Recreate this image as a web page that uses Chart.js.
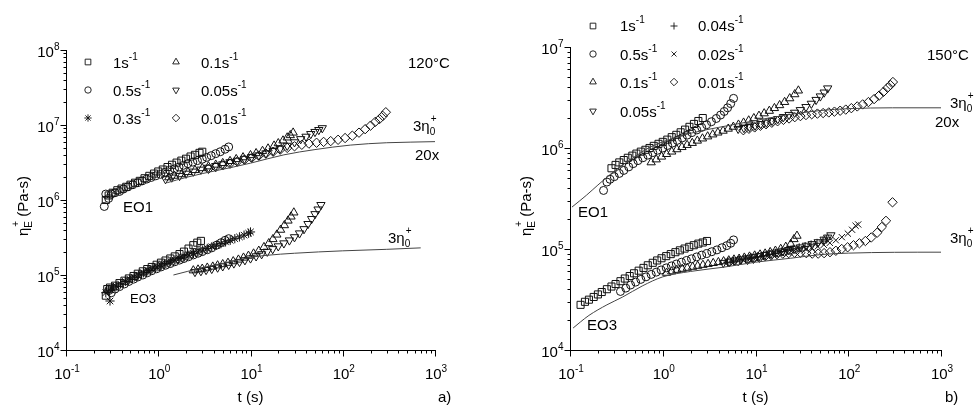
<!DOCTYPE html>
<html>
<head>
<meta charset="utf-8">
<script src="https://cdn.jsdelivr.net/npm/chart.js@4.4.1/dist/chart.umd.min.js"></script>
<style>
  html, body { margin: 0; padding: 0; background: #fff; }
  #wrap { position: relative; width: 977px; height: 406px; overflow: hidden; }
  #chartA { position: absolute; left: 0; top: 0; }
  #chartB { position: absolute; left: 490px; top: 0; }
</style>
</head>
<body>
<div id="wrap">
  <canvas id="chartA" width="490" height="406"></canvas>
  <canvas id="chartB" width="487" height="406"></canvas>
</div>
<script>
// axis decades
const xTickExp = [-1, 0, 1, 2, 3];
const yTickExpA = [4, 5, 6, 7, 8];
const yTickExpB = [4, 5, 6, 7];

// ---- 120°C, EO1 : [t (s), eta_E+ (Pa-s)]
const a1_1 = [[0.27,1.0e6],[0.29,1.15e6],[0.32,1.25e6],[0.36,1.35e6],[0.40,1.42e6],[0.45,1.5e6],[0.50,1.6e6],[0.56,1.7e6],[0.63,1.8e6],[0.71,1.95e6],[0.80,2.1e6],[0.90,2.25e6],[1.0,2.4e6],[1.12,2.55e6],[1.26,2.75e6],[1.41,2.95e6],[1.58,3.15e6],[1.78,3.35e6],[2.0,3.55e6],[2.24,3.8e6],[2.5,4.0e6],[2.8,4.25e6],[3.0,4.4e6]];
const a1_05 = [[0.26,8.2e5],[0.27,1.2e6],[0.29,1.05e6],[0.31,1.2e6],[0.34,1.25e6],[0.38,1.3e6],[0.42,1.4e6],[0.47,1.5e6],[0.53,1.6e6],[0.6,1.7e6],[0.67,1.8e6],[0.75,1.9e6],[0.84,2.0e6],[0.94,2.1e6],[1.06,2.2e6],[1.19,2.35e6],[1.33,2.5e6],[1.5,2.6e6],[1.68,2.75e6],[1.88,2.9e6],[2.1,3.05e6],[2.37,3.2e6],[2.66,3.35e6],[3.0,3.5e6],[3.35,3.7e6],[3.75,3.9e6],[4.2,4.15e6],[4.7,4.4e6],[5.3,4.75e6],[5.8,5.1e6]];
const a1_01 = [[1.3,2.0e6],[1.5,2.1e6],[1.8,2.2e6],[2.1,2.35e6],[2.5,2.5e6],[3.0,2.65e6],[3.5,2.8e6],[4.2,2.95e6],[5.0,3.1e6],[6.0,3.3e6],[7.0,3.5e6],[8.3,3.7e6],[10,3.95e6],[11.5,4.2e6],[13.5,4.5e6],[15.5,4.85e6],[18,5.3e6],[20,5.7e6],[22.5,6.2e6],[25,6.8e6],[27,7.3e6],[29,7.9e6]];
const a1_005 = [[1.2,1.9e6],[1.4,2.0e6],[1.7,2.1e6],[2.0,2.25e6],[2.4,2.4e6],[2.9,2.55e6],[3.5,2.7e6],[4.2,2.85e6],[5.0,3.0e6],[6.0,3.2e6],[7.2,3.35e6],[8.6,3.55e6],[10.3,3.75e6],[12.3,3.95e6],[14.7,4.2e6],[17.6,4.5e6],[21,4.85e6],[25,5.3e6],[30,5.9e6],[35,6.5e6],[40,7.0e6],[45,7.6e6],[50,8.1e6],[55,8.6e6],[60,9.1e6]];
const a1_001 = [[3.5,2.6e6],[4.2,2.75e6],[5,2.9e6],[6,3.05e6],[7.2,3.25e6],[8.6,3.45e6],[10.3,3.65e6],[12.3,3.9e6],[14.7,4.15e6],[17.6,4.4e6],[21,4.7e6],[25,4.95e6],[30,5.2e6],[36,5.45e6],[43,5.65e6],[52,5.8e6],[62,5.95e6],[74,6.1e6],[89,6.35e6],[106,6.7e6],[127,7.2e6],[150,7.9e6],[175,8.8e6],[200,9.8e6],[225,1.1e7],[250,1.2e7],[272,1.32e7],[293,1.48e7]];
const a1_lve = [[1.25,1.7e6],[2,2.0e6],[3,2.25e6],[6.5,2.75e6],[10,3.1e6],[23,4.0e6],[50,4.7e6],[122,5.4e6],[300,5.8e6],[1000,6.0e6],[1400,6.1e6]];

// ---- 120°C, EO3
const a3_1 = [[0.27,5.3e4],[0.28,6.5e4],[0.3,6.8e4],[0.34,7.2e4],[0.38,7.8e4],[0.43,8.4e4],[0.48,9.0e4],[0.54,9.7e4],[0.6,1.04e5],[0.68,1.12e5],[0.76,1.2e5],[0.85,1.28e5],[0.96,1.37e5],[1.07,1.46e5],[1.2,1.56e5],[1.35,1.66e5],[1.51,1.77e5],[1.7,1.9e5],[1.9,2.05e5],[2.13,2.25e5],[2.4,2.5e5],[2.65,2.7e5],[2.9,2.85e5]];
const a3_05 = [[0.29,6.2e4],[0.31,5.8e4],[0.34,6.5e4],[0.38,7.0e4],[0.43,7.6e4],[0.48,8.2e4],[0.54,8.8e4],[0.6,9.4e4],[0.68,1.0e5],[0.76,1.07e5],[0.85,1.14e5],[0.96,1.21e5],[1.07,1.28e5],[1.2,1.35e5],[1.35,1.42e5],[1.51,1.5e5],[1.7,1.58e5],[1.9,1.66e5],[2.13,1.75e5],[2.4,1.85e5],[2.7,1.95e5],[3.0,2.05e5],[3.4,2.17e5],[3.8,2.3e5],[4.3,2.5e5],[4.8,2.7e5],[5.3,2.9e5],[5.8,3.05e5]];
const a3_03 = [[0.27,5.8e4],[0.29,6.3e4],[0.3,4.5e4],[0.32,6.7e4],[0.35,7.1e4],[0.39,7.6e4],[0.44,8.2e4],[0.49,8.8e4],[0.55,9.4e4],[0.61,1.0e5],[0.69,1.07e5],[0.77,1.14e5],[0.86,1.21e5],[0.97,1.28e5],[1.08,1.35e5],[1.21,1.42e5],[1.36,1.5e5],[1.52,1.58e5],[1.71,1.66e5],[1.92,1.75e5],[2.15,1.84e5],[2.41,1.94e5],[2.7,2.04e5],[3.03,2.15e5],[3.4,2.26e5],[3.81,2.38e5],[4.27,2.5e5],[4.79,2.62e5],[5.37,2.76e5],[6.03,2.9e5],[6.76,3.05e5],[7.59,3.22e5],[8.51,3.4e5],[9.55,3.6e5],[10,3.75e5]];
const a3_01 = [[2.4,1.15e5],[2.7,1.18e5],[3.0,1.21e5],[3.4,1.25e5],[3.9,1.29e5],[4.4,1.34e5],[5.0,1.39e5],[5.7,1.45e5],[6.5,1.52e5],[7.4,1.6e5],[8.4,1.7e5],[9.5,1.8e5],[10.8,1.93e5],[12.3,2.1e5],[14,2.35e5],[15.8,2.65e5],[17.5,3.0e5],[19.3,3.45e5],[21.2,4.0e5],[23.3,4.6e5],[25.5,5.3e5],[27.5,6.0e5],[29.5,6.8e5]];
const a3_005 = [[2.5,1.1e5],[2.9,1.13e5],[3.3,1.17e5],[3.8,1.21e5],[4.4,1.26e5],[5.0,1.31e5],[5.8,1.37e5],[6.6,1.43e5],[7.6,1.5e5],[8.7,1.58e5],[10,1.67e5],[11.5,1.78e5],[13.2,1.9e5],[15.2,2.05e5],[17.4,2.22e5],[20,2.42e5],[23,2.65e5],[26.4,2.9e5],[30,3.2e5],[34,3.6e5],[38,4.1e5],[42,4.8e5],[46,5.6e5],[50,6.5e5],[54,7.5e5],[58,8.6e5]];
const a3_lve = [[1.46,1.0e5],[3,1.25e5],[6,1.5e5],[10,1.72e5],[15,1.83e5],[30,1.95e5],[100,2.1e5],[300,2.2e5],[700,2.3e5]];

// ---- 150°C, EO1
const b1_1 = [[0.28,6.3e5],[0.31,6.8e5],[0.34,7.2e5],[0.38,7.6e5],[0.42,8.0e5],[0.47,8.4e5],[0.52,8.8e5],[0.58,9.2e5],[0.65,9.6e5],[0.72,1.0e6],[0.8,1.05e6],[0.9,1.1e6],[1.0,1.15e6],[1.12,1.21e6],[1.25,1.28e6],[1.4,1.35e6],[1.56,1.43e6],[1.74,1.52e6],[1.94,1.62e6],[2.17,1.73e6],[2.42,1.85e6],[2.7,1.98e6]];
const b1_05 = [[0.23,3.8e5],[0.25,4.6e5],[0.27,4.9e5],[0.3,5.2e5],[0.34,5.6e5],[0.38,6.0e5],[0.43,6.5e5],[0.48,7.0e5],[0.54,7.5e5],[0.61,8.0e5],[0.69,8.5e5],[0.78,9.0e5],[0.88,9.5e5],[1.0,1.0e6],[1.13,1.06e6],[1.27,1.12e6],[1.43,1.19e6],[1.62,1.26e6],[1.83,1.34e6],[2.06,1.42e6],[2.33,1.51e6],[2.63,1.6e6],[2.97,1.7e6],[3.35,1.82e6],[3.78,1.96e6],[4.2,2.12e6],[4.6,2.3e6],[5.0,2.5e6],[5.4,2.75e6],[5.8,3.1e6]];
const b1_01 = [[0.75,7.2e5],[0.85,7.7e5],[0.97,8.2e5],[1.1,8.7e5],[1.25,9.2e5],[1.42,9.7e5],[1.61,1.02e6],[1.83,1.07e6],[2.08,1.12e6],[2.36,1.18e6],[2.68,1.24e6],[3.05,1.3e6],[3.46,1.36e6],[3.93,1.42e6],[4.47,1.48e6],[5.08,1.55e6],[5.77,1.62e6],[6.55,1.7e6],[7.44,1.78e6],[8.45,1.87e6],[9.6,1.97e6],[10.9,2.08e6],[12.4,2.2e6],[14.1,2.33e6],[16,2.48e6],[18.2,2.65e6],[20.6,2.85e6],[23.4,3.1e6],[26.5,3.4e6],[29,3.7e6]];
const b1_005 = [[6.5,1.55e6],[7.5,1.58e6],[8.6,1.62e6],[9.9,1.67e6],[11.4,1.73e6],[13.1,1.79e6],[15.1,1.86e6],[17.4,1.94e6],[20,2.03e6],[23,2.13e6],[26.4,2.24e6],[30.4,2.38e6],[35,2.55e6],[40,2.75e6],[45,3.0e6],[50,3.25e6],[55,3.55e6],[60,3.9e6]];
const b1_001 = [[7.4,1.5e6],[8.5,1.55e6],[9.8,1.6e6],[11.3,1.66e6],[13,1.72e6],[15,1.78e6],[17.3,1.84e6],[20,1.9e6],[23,1.96e6],[26.5,2.02e6],[30.5,2.07e6],[35,2.12e6],[40.4,2.16e6],[46.5,2.19e6],[53.6,2.22e6],[61.7,2.25e6],[71,2.29e6],[81.8,2.34e6],[94,2.4e6],[108,2.48e6],[125,2.58e6],[143,2.7e6],[165,2.85e6],[190,3.05e6],[215,3.3e6],[240,3.6e6],[265,3.95e6],[285,4.2e6],[303,4.5e6]];
const b1_lve = [[0.105,2.6e5],[0.15,3.4e5],[0.2,4.3e5],[0.3,5.9e5],[0.5,8.2e5],[0.7,1.0e6],[1,1.15e6],[2,1.4e6],[4,1.6e6],[8,1.8e6],[20,2.1e6],[50,2.35e6],[100,2.45e6],[300,2.5e6],[1000,2.5e6],[2300,2.5e6]];

// ---- 150°C, EO3
const b3_1 = [[0.13,2.8e4],[0.145,3.0e4],[0.16,3.15e4],[0.18,3.35e4],[0.2,3.55e4],[0.22,3.75e4],[0.25,4.0e4],[0.28,4.25e4],[0.31,4.5e4],[0.35,4.8e4],[0.39,5.1e4],[0.44,5.4e4],[0.49,5.75e4],[0.55,6.1e4],[0.62,6.5e4],[0.69,6.9e4],[0.78,7.3e4],[0.87,7.7e4],[0.97,8.1e4],[1.09,8.5e4],[1.22,8.9e4],[1.37,9.3e4],[1.53,9.7e4],[1.72,1.01e5],[1.93,1.05e5],[2.16,1.09e5],[2.42,1.13e5],[2.7,1.16e5],[3.0,1.2e5]];
const b3_05 = [[0.35,3.8e4],[0.4,4.1e4],[0.45,4.4e4],[0.51,4.7e4],[0.58,5.0e4],[0.66,5.3e4],[0.75,5.6e4],[0.85,5.9e4],[0.96,6.2e4],[1.09,6.5e4],[1.24,6.8e4],[1.4,7.1e4],[1.59,7.4e4],[1.8,7.7e4],[2.04,8.0e4],[2.32,8.35e4],[2.63,8.7e4],[2.98,9.0e4],[3.38,9.4e4],[3.84,9.8e4],[4.35,1.03e5],[4.9,1.08e5],[5.4,1.14e5],[5.8,1.23e5]];
const b3_01 = [[1.1,5.8e4],[1.25,6.0e4],[1.42,6.2e4],[1.62,6.35e4],[1.84,6.5e4],[2.1,6.65e4],[2.38,6.8e4],[2.71,6.95e4],[3.08,7.1e4],[3.5,7.25e4],[3.98,7.4e4],[4.53,7.55e4],[5.15,7.7e4],[5.86,7.85e4],[6.66,8.0e4],[7.58,8.2e4],[8.62,8.4e4],[9.8,8.6e4],[11.2,8.8e4],[12.7,9.0e4],[14.4,9.3e4],[16.4,9.6e4],[18.7,1.0e5],[21.2,1.05e5],[24,1.12e5],[26,1.25e5],[28,1.35e5]];
const b3_005 = [[4.5,7.3e4],[5.2,7.5e4],[6,7.7e4],[7,7.9e4],[8.1,8.1e4],[9.4,8.3e4],[10.9,8.5e4],[12.6,8.75e4],[14.6,9.0e4],[16.9,9.25e4],[19.6,9.5e4],[22.7,9.8e4],[26.3,1.01e5],[30.5,1.04e5],[35.3,1.08e5],[40.9,1.12e5],[47.4,1.17e5],[54.9,1.24e5],[60,1.3e5],[65,1.37e5]];
const b3_004 = [[5,7.4e4],[5.8,7.6e4],[6.7,7.8e4],[7.8,8.0e4],[9,8.2e4],[10.5,8.4e4],[12.2,8.6e4],[14.1,8.9e4],[16.4,9.1e4],[19,9.4e4],[22,9.7e4],[25.5,1.0e5],[29.6,1.03e5],[34.3,1.06e5],[39.8,1.1e5],[46.1,1.14e5],[53.5,1.2e5],[58,1.25e5]];
const b3_002 = [[9,7.8e4],[10.5,8.0e4],[12.2,8.3e4],[14.2,8.5e4],[16.5,8.8e4],[19.1,9.0e4],[22.2,9.3e4],[25.8,9.5e4],[30,9.8e4],[34.8,1.0e5],[40.4,1.03e5],[46.9,1.06e5],[54.5,1.1e5],[63.3,1.15e5],[73.5,1.22e5],[85.3,1.31e5],[99,1.42e5],[110,1.55e5],[120,1.7e5],[128,1.75e5]];
const b3_001 = [[5.2,7.4e4],[6.5,7.6e4],[8.2,7.8e4],[9.5,8.0e4],[11,8.2e4],[12.7,8.5e4],[14.7,8.7e4],[17,8.9e4],[19.7,9.0e4],[22.8,9.1e4],[26.4,9.2e4],[30.5,9.2e4],[35.3,9.1e4],[40.9,9.0e4],[47.4,9.0e4],[54.9,9.1e4],[63.5,9.3e4],[73.5,9.6e4],[85,1.0e5],[98.5,1.04e5],[114,1.09e5],[132,1.14e5],[153,1.2e5],[177,1.3e5],[205,1.45e5],[230,1.65e5],[255,1.9e5],[300,2.9e5]];
const b3_lve = [[0.108,1.65e4],[0.13,1.9e4],[0.16,2.2e4],[0.25,2.8e4],[0.37,3.35e4],[0.6,4.3e4],[1,5.3e4],[2,6.0e4],[4.5,6.6e4],[10,7.4e4],[24,8.1e4],[50,8.8e4],[100,9.1e4],[1000,9.3e4],[2300,9.3e4]];

const FONT = '"Liberation Sans", Arial, sans-serif';
const INK = '#111';

// marker look per strain rate
const MARK = {
  '1':    { style: 'rect', r: 5 },
  '0.5':  { style: 'circle', r: 4 },
  '0.3':  { style: 'star', r: 4.6 },
  '0.1':  { style: 'triangle', r: 4.8 },
  '0.05': { style: 'triangle', r: 4.8, rot: 180 },
  '0.04': { style: 'cross', r: 4.4 },
  '0.02': { style: 'crossRot', r: 4.4 },
  '0.01': { style: 'rectRot', r: 4.7 }
};

function pts(arr) { return arr.map(p => ({ x: p[0], y: p[1] })); }

function markers(arr, rate) {
  const m = MARK[rate];
  return {
    data: pts(arr), showLine: false,
    pointStyle: m.style, pointRadius: m.r, pointRotation: m.rot || 0,
    borderColor: INK, backgroundColor: 'rgba(0,0,0,0)', borderWidth: 1
  };
}

function lve(arr) {
  return {
    data: pts(arr), showLine: true, pointRadius: 0, borderColor: '#444',
    borderWidth: 1, cubicInterpolationMode: 'monotone', clip: false, fill: false
  };
}

// text runs: {t, s: font size, dy, stack: next run drawn at same x}
function drawRich(ctx, parts, x, y, align) {
  const w = parts.map(p => { ctx.font = p.s + 'px ' + FONT; return ctx.measureText(p.t).width; });
  let total = 0;
  for (let i = 0; i < parts.length; i++) {
    if (parts[i].stack) { total += Math.max(w[i], w[i + 1]); i++; } else total += w[i];
  }
  let cx = align === 'center' ? x - total / 2 : align === 'right' ? x - total : x;
  ctx.textAlign = 'left';
  ctx.textBaseline = 'alphabetic';
  for (let i = 0; i < parts.length; i++) {
    const p = parts[i];
    ctx.font = p.s + 'px ' + FONT;
    ctx.fillText(p.t, cx, y + (p.dy || 0));
    if (p.stack) {
      const q = parts[i + 1];
      ctx.font = q.s + 'px ' + FONT;
      ctx.fillText(q.t, cx + 1, y + (q.dy || 0));
      cx += Math.max(w[i], w[i + 1]);
      i++;
    } else cx += w[i];
  }
  return total;
}

const rateText = v => [{ t: v + 's', s: 15 }, { t: '-1', s: 10, dy: -8 }];
const powText = e => [{ t: '10', s: 15 }, { t: String(e), s: 10, dy: -7 }];
const eta0Text = [{ t: '3η', s: 15 }, { t: '0', s: 10, dy: 4, stack: true }, { t: '+', s: 10, dy: -9 }];
const yTitle = [{ t: 'η', s: 15 }, { t: 'E', s: 10, dy: 4, stack: true }, { t: '+', s: 10, dy: -9 }, { t: ' (Pa-s)', s: 15 }];

function drawSymbol(ctx, rate, x, y) {
  const m = MARK[rate];
  ctx.save();
  ctx.strokeStyle = INK; ctx.fillStyle = 'rgba(0,0,0,0)'; ctx.lineWidth = 0.9;
  Chart.helpers.drawPoint(ctx, { pointStyle: m.style, rotation: m.rot || 0, radius: m.r * 0.8, borderWidth: 0.9 }, x, y);
  ctx.restore();
}

function panelPlugin(cfg) {
  return {
    id: 'panel',
    afterDraw(chart) {
      const ctx = chart.ctx, xs = chart.scales.x, ys = chart.scales.y;
      const xa = Math.round(xs.left) + 0.5, ya = Math.round(ys.bottom) + 0.5;
      ctx.save();
      ctx.strokeStyle = '#000'; ctx.fillStyle = '#000'; ctx.lineWidth = 1;

      // major and minor ticks, pointing out of the plot
      ctx.beginPath();
      cfg.xExp.forEach(e => {
        for (let k = 1; k <= 9; k++) {
          const v = k * Math.pow(10, e);
          if (v > xs.max * 1.0001) break;
          const px = Math.round(xs.getPixelForValue(v)) + 0.5;
          ctx.moveTo(px, ya); ctx.lineTo(px, ya + (k === 1 ? 6 : 3));
        }
      });
      cfg.yExp.forEach(e => {
        for (let k = 1; k <= 9; k++) {
          const v = k * Math.pow(10, e);
          if (v > ys.max * 1.0001) break;
          const py = Math.round(ys.getPixelForValue(v)) + 0.5;
          ctx.moveTo(xa, py); ctx.lineTo(xa - (k === 1 ? 6 : 3), py);
        }
      });
      ctx.stroke();

      // decade labels
      ctx.fillStyle = '#000';
      cfg.xExp.forEach(e => {
        drawRich(ctx, powText(e), xs.getPixelForValue(Math.pow(10, e)) + 1, ya + 28, 'center');
      });
      cfg.yExp.forEach(e => {
        drawRich(ctx, powText(e), xa - 7, ys.getPixelForValue(Math.pow(10, e)) + 7, 'right');
      });

      // axis titles
      drawRich(ctx, [{ t: 't (s)', s: 15 }], (xs.left + xs.right) / 2, 402, 'center');
      drawRich(ctx, [{ t: cfg.tag, s: 15 }], cfg.tagX, 402, 'left');
      ctx.save();
      ctx.translate(cfg.yTitleX, 206);
      ctx.rotate(-Math.PI / 2);
      drawRich(ctx, yTitle, 0, 0, 'center');
      ctx.restore();

      // legend
      cfg.legend.forEach(l => {
        drawSymbol(ctx, l.rate, l.sx, l.sy);
        ctx.fillStyle = '#000';
        drawRich(ctx, rateText(l.rate), l.tx, l.ty, 'left');
      });

      // notes
      cfg.notes.forEach(n => drawRich(ctx, n.parts, n.x, n.y, 'left'));
      ctx.restore();
    }
  };
}

function makeChart(id, datasets, yMax, pad, yWidth, cfg) {
  return new Chart(document.getElementById(id), {
    type: 'scatter',
    data: { datasets: datasets },
    options: {
      responsive: false, animation: false, devicePixelRatio: 1, events: [],
      layout: { padding: pad },
      plugins: { legend: { display: false }, tooltip: { enabled: false } },
      scales: {
        x: {
          type: 'logarithmic', min: 0.1, max: 1000,
          ticks: { display: false }, grid: { display: false },
          border: { display: true, color: '#000', width: 1 },
          afterFit(s) { s.height = 56; }
        },
        y: {
          type: 'logarithmic', min: 1e4, max: yMax,
          ticks: { display: false }, grid: { display: false },
          border: { display: true, color: '#000', width: 1 },
          afterFit(s) { s.width = yWidth; }
        }
      }
    },
    plugins: [panelPlugin(cfg)]
  });
}

const legendA = [
  { rate: '1',    sx: 88,  sy: 62,  tx: 113, ty: 68 },
  { rate: '0.5',  sx: 88,  sy: 90,  tx: 113, ty: 96 },
  { rate: '0.3',  sx: 88,  sy: 118, tx: 113, ty: 124 },
  { rate: '0.1',  sx: 176, sy: 62,  tx: 201, ty: 68 },
  { rate: '0.05', sx: 176, sy: 90,  tx: 201, ty: 96 },
  { rate: '0.01', sx: 176, sy: 118, tx: 201, ty: 124 }
];

const legendB = [
  { rate: '1',    sx: 103, sy: 26,  tx: 130, ty: 31 },
  { rate: '0.5',  sx: 103, sy: 54,  tx: 130, ty: 60 },
  { rate: '0.1',  sx: 103, sy: 82,  tx: 130, ty: 88 },
  { rate: '0.05', sx: 103, sy: 111, tx: 130, ty: 117 },
  { rate: '0.04', sx: 184, sy: 26,  tx: 208, ty: 31 },
  { rate: '0.02', sx: 184, sy: 54,  tx: 208, ty: 60 },
  { rate: '0.01', sx: 184, sy: 82,  tx: 208, ty: 88 }
];

makeChart('chartA', [
  lve(a1_lve), lve(a3_lve),
  markers(a1_1, '1'), markers(a1_05, '0.5'), markers(a1_01, '0.1'),
  markers(a1_005, '0.05'), markers(a1_001, '0.01'),
  markers(a3_1, '1'), markers(a3_05, '0.5'), markers(a3_03, '0.3'),
  markers(a3_01, '0.1'), markers(a3_005, '0.05')
], 1e8, { top: 50, right: 55, left: 0, bottom: 0 }, 66, {
  xExp: xTickExp, yExp: yTickExpA, tag: 'a)', tagX: 438, yTitleX: 28,
  legend: legendA,
  notes: [
    { parts: [{ t: '120°C', s: 15 }], x: 408, y: 68 },
    { parts: eta0Text, x: 413, y: 131 },
    { parts: [{ t: '20x', s: 15 }], x: 415, y: 160 },
    { parts: eta0Text, x: 388, y: 243 },
    { parts: [{ t: 'EO1', s: 15 }], x: 123, y: 212 },
    { parts: [{ t: 'EO3', s: 13 }], x: 130, y: 303 }
  ]
});

makeChart('chartB', [
  lve(b1_lve), lve(b3_lve),
  markers(b1_1, '1'), markers(b1_05, '0.5'), markers(b1_01, '0.1'),
  markers(b1_005, '0.05'), markers(b1_001, '0.01'),
  markers(b3_1, '1'), markers(b3_05, '0.5'), markers(b3_01, '0.1'),
  markers(b3_005, '0.05'), markers(b3_004, '0.04'), markers(b3_002, '0.02'),
  markers(b3_001, '0.01')
], 1e7, { top: 47, right: 36, left: 0, bottom: 0 }, 80, {
  xExp: xTickExp, yExp: yTickExpB, tag: 'b)', tagX: 455, yTitleX: 41,
  legend: legendB,
  notes: [
    { parts: [{ t: '150°C', s: 15 }], x: 437, y: 60 },
    { parts: eta0Text, x: 460, y: 108 },
    { parts: [{ t: '20x', s: 15 }], x: 445, y: 127 },
    { parts: eta0Text, x: 460, y: 243 },
    { parts: [{ t: 'EO1', s: 15 }], x: 88, y: 217 },
    { parts: [{ t: 'EO3', s: 15 }], x: 97, y: 330 }
  ]
});
</script>
</body>
</html>
